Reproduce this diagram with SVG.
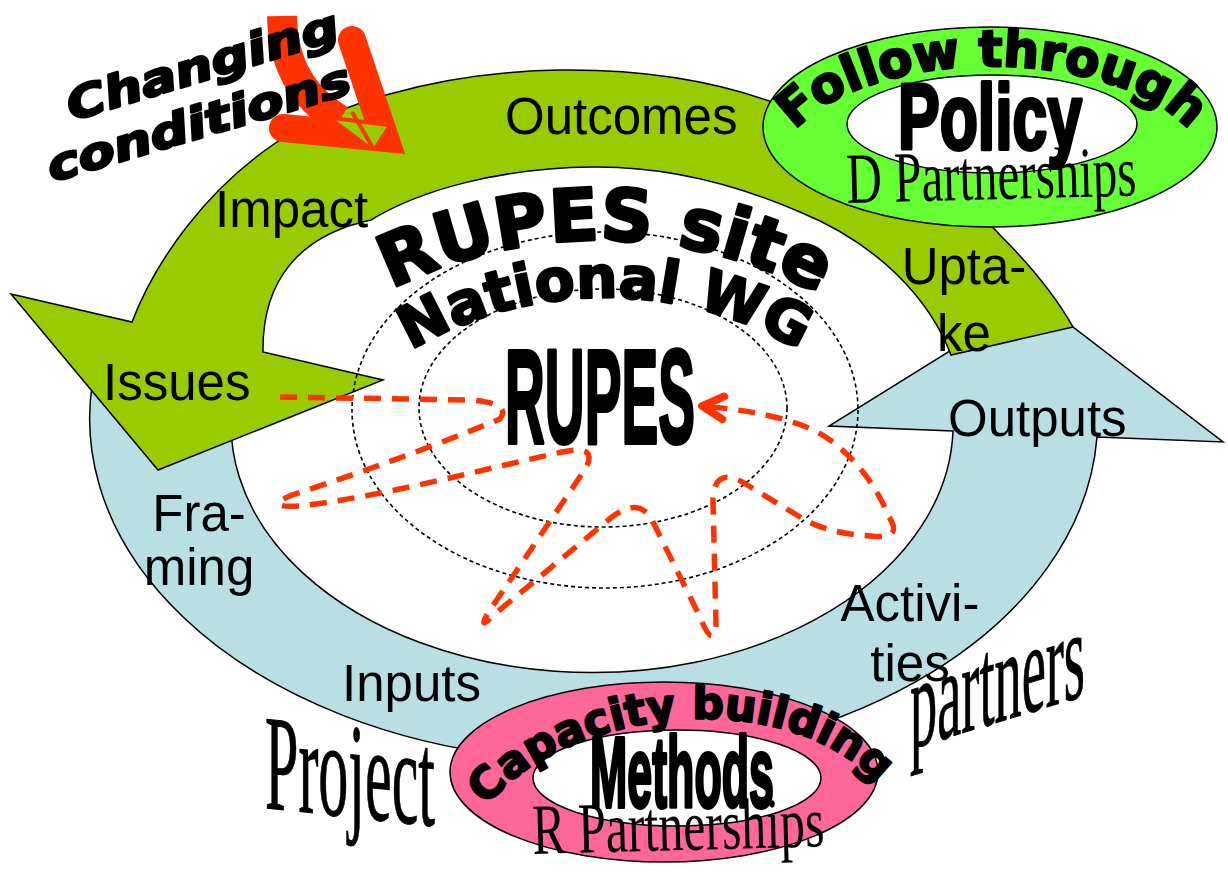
<svg xmlns="http://www.w3.org/2000/svg" width="1228" height="872" viewBox="0 0 1228 872">
<style>
.lbl{font-family:"Liberation Sans",Arial,sans-serif;font-size:51px;fill:#000}
.mid{text-anchor:middle}
.heavy{font-family:"DejaVu Sans","Liberation Sans",Arial,sans-serif;font-weight:bold;fill:#000;stroke:#000;stroke-linejoin:round}
.cond{font-family:"Liberation Sans",Arial,sans-serif;font-weight:bold;fill:#000;stroke:#000;stroke-linejoin:round}
.serif{font-family:"Liberation Serif","Times New Roman",serif;fill:#000}
.shape{stroke:#000;stroke-width:1.5;stroke-linejoin:miter}
.dotring{fill:none;stroke:#000;stroke-width:1.6;stroke-dasharray:4 3}
.flow{fill:none;stroke:#FF3300;stroke-width:5.5;stroke-dasharray:17 11}
.orange{fill:none;stroke:#FF3300}
</style>
<defs>
<marker id="arr" markerUnits="userSpaceOnUse" markerWidth="40" markerHeight="40" viewBox="-20 -14 24 28" refX="0" refY="0" orient="auto" overflow="visible">
<path d="M-15,-8 L0,0 L-15,8" fill="none" stroke="#FF3300" stroke-width="5.5" stroke-linecap="round" stroke-linejoin="round"/>
</marker>
<path id="ftArc" d="M800,125 A215,107 0 0 1 1184,125"/>
<path id="cbArc" d="M492,800 C565,715 770,680 872,778"/>
<path id="siteArc" d="M380,295 A470,470 0 0 1 830,300"/>
<path id="wgArc" d="M405,354 A382,382 0 0 1 805,354"/>
</defs>

<g id="outputs-cycle">
<path class="shape" fill="#BADFE3" d="M953,431 L829,426 L1035,298 L1223,442 L1097,437 A504,342 0 1 1 100,350 L237,380 A361,248 0 1 0 953,431 Z"/>
<text class="lbl" x="948" y="436">Outputs</text>
<text class="lbl mid" x="910" y="621">Activi-</text>
<text class="lbl mid" x="910" y="681">ties</text>
<text class="lbl" x="342" y="701">Inputs</text>
<text class="lbl mid" x="199" y="531">Fra-</text>
<text class="lbl mid" x="199" y="585">ming</text>
</g>

<g id="outcomes-cycle">
<path class="shape" fill="#99CC00" d="M132,322 C155,262 205,190 277,142 C330,108 430,72 560,70 C650,69 720,82 780,105 C880,140 960,190 1000,235 C1030,265 1055,295 1073,327 L951,355 C930,300 880,245 800,212 C740,186 670,166 592,167 C500,168 420,190 371,220 C300,235 262,280 263,352 L383,380 L158,470 L11,294 Z"/>
<text class="lbl" x="505" y="134">Outcomes</text>
<text class="lbl" x="215" y="227">Impact</text>
<text class="lbl mid" x="964" y="284">Upta-</text>
<text class="lbl mid" x="964" y="351">ke</text>
<text class="lbl" x="103" y="400">Issues</text>
</g>

<g id="follow-through">
<ellipse class="shape" cx="990" cy="127" rx="227" ry="100" fill="#66FF33"/>
<ellipse class="shape" cx="992" cy="124" rx="145" ry="49" fill="#FFFFFF"/>
<text class="heavy" font-size="50" stroke-width="2.5"><textPath href="#ftArc" startOffset="50%" text-anchor="middle">Follow through</textPath></text>
<text class="cond" x="898" y="149" font-size="92" stroke-width="4" textLength="184" lengthAdjust="spacingAndGlyphs">Policy</text>
<text class="serif" font-size="72" transform="translate(847,203) rotate(-1.5)" textLength="290" lengthAdjust="spacingAndGlyphs">D Partnerships</text>
</g>

<g id="capacity-building">
<ellipse class="shape" cx="664" cy="772" rx="214" ry="90" fill="#FF6699"/>
<ellipse class="shape" cx="677" cy="778" rx="144" ry="48" fill="#FFFFFF"/>
<text class="heavy" font-size="44" stroke-width="2.2"><textPath href="#cbArc" startOffset="50%" text-anchor="middle">Capacity building</textPath></text>
<text class="cond" x="590" y="807" font-size="100" stroke-width="4" textLength="184" lengthAdjust="spacingAndGlyphs">Methods</text>
<text class="serif" font-size="72" transform="translate(533,854) rotate(-1.5)" textLength="292" lengthAdjust="spacingAndGlyphs">R Partnerships</text>
</g>

<g id="changing-conditions">
<path class="orange" d="M282,16 C283,62 300,96 340,120" stroke-width="30"/>
<path class="orange" d="M352,40 L385,138 L283,128" stroke-width="28" stroke-linecap="round" stroke-linejoin="miter"/>
<polygon points="333,118 388,125 373,148" fill="#99CC00"/>
<path class="orange" d="M352,112 L373,148 M333,118 L388,125" stroke-width="4"/>
<text class="heavy" font-size="44" font-style="italic" stroke-width="2.5" transform="translate(72,121) rotate(-17)" textLength="282" lengthAdjust="spacingAndGlyphs">Changing</text>
<text class="heavy" font-size="44" font-style="italic" stroke-width="2.5" transform="translate(52,182) rotate(-16.5)" textLength="315" lengthAdjust="spacingAndGlyphs">conditions</text>
</g>

<g id="rupes-site">
<ellipse class="dotring" cx="605" cy="410" rx="253" ry="178"/>
<ellipse class="dotring" cx="603" cy="408" rx="184" ry="119"/>
<text class="heavy" font-size="72" stroke-width="3"><textPath href="#siteArc" startOffset="50%" text-anchor="middle">RUPES site</textPath></text>
<text class="heavy" font-size="58" stroke-width="2.5"><textPath href="#wgArc" startOffset="50%" text-anchor="middle">National WG</textPath></text>
</g>

<g id="connectors">
<path class="flow" marker-end="url(#arr)" d="M280,397 L470,400 Q512,403 500,419 Q400,460 292,495 Q262,508 300,506 C380,497 480,470 562,452 Q598,444 586,468 L490,610 Q475,634 496,613 L612,517 Q640,496 653,522 L700,617 Q713,650 716,625 L713,500 Q714,466 744,483 L800,517 Q825,533 870,536 Q904,540 889,517 Q870,470 830,440 Q795,414 702,406"/>
</g>

<g id="rupes">
<text class="cond" x="505" y="443" font-size="134" stroke-width="4" textLength="190" lengthAdjust="spacingAndGlyphs">RUPES</text>
</g>

<g id="project">
<text class="serif" font-size="136" stroke="#000" stroke-width="1" transform="translate(265,808) skewY(6)" textLength="170" lengthAdjust="spacingAndGlyphs">Project</text>
</g>

<g id="partners">
<text class="serif" font-size="128" stroke="#000" stroke-width="1" transform="translate(910,749) skewY(-17)" textLength="175" lengthAdjust="spacingAndGlyphs">partners</text>
</g>
</svg>
